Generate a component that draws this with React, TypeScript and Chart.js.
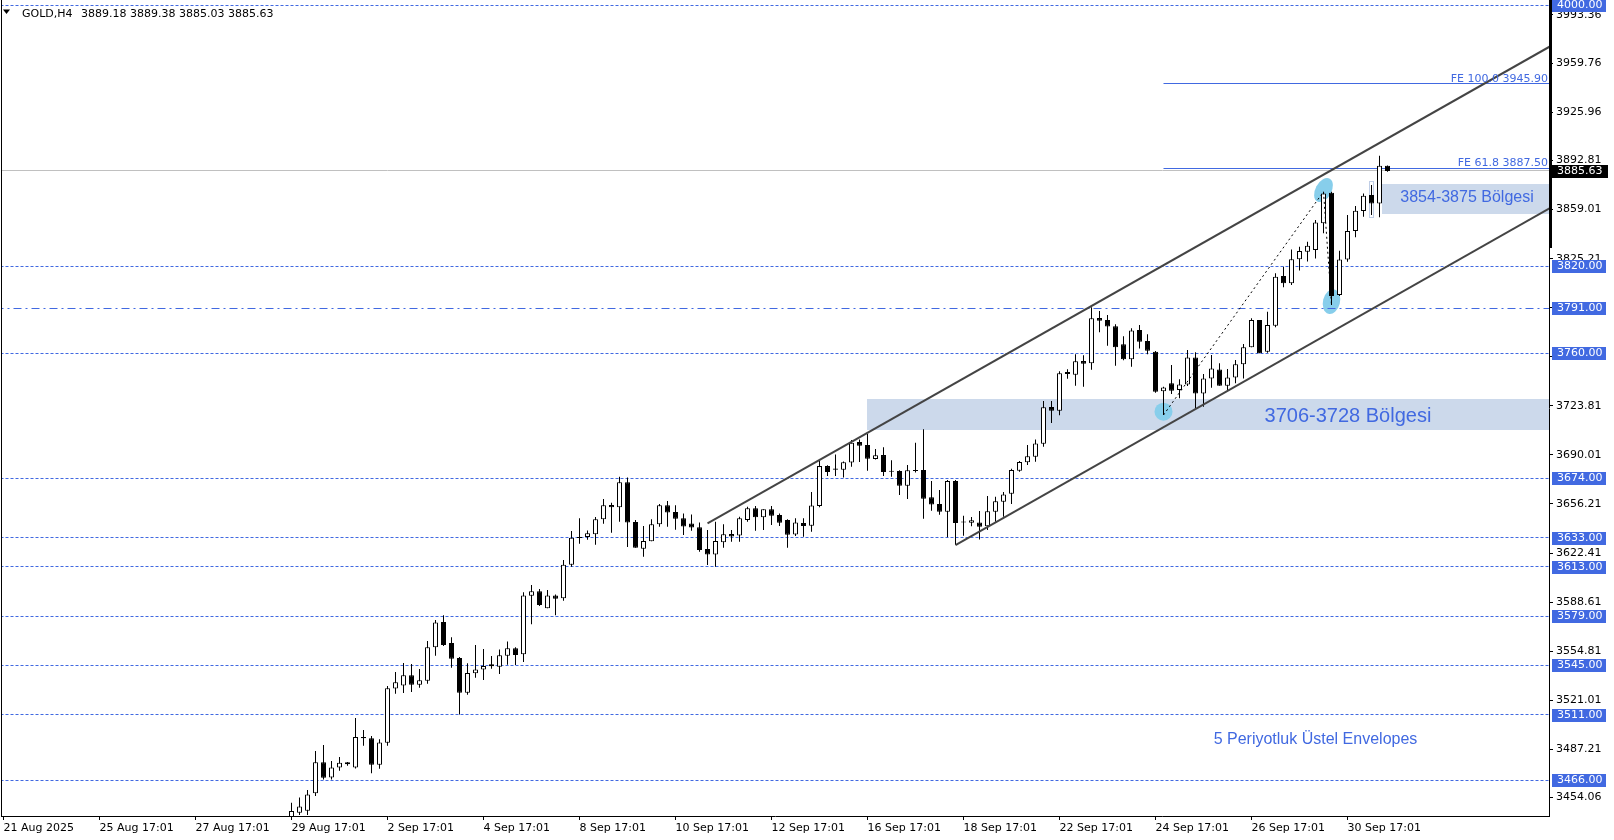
import React, { useEffect, useRef } from 'react';
import { Chart, registerables } from 'chart.js';

Chart.register(...registerables);

// ---------- data ----------
const FIRST_BAR = 36;
const OPEN: number[] = [
  3440.0, 3443.5, 3444.8, 3456.8, 3478.2, 3467.8, 3474.7, 3478.2, 3474.7, 3495.6,
  3494.7, 3476.5, 3491.7, 3529.0, 3531.2, 3538.1, 3531.7, 3534.4, 3557.4, 3574.9,
  3560.4, 3550.1, 3526.2, 3539.5, 3542.2, 3544.3, 3544.1, 3551.7, 3556.7, 3552.6,
  3593.0, 3596.0, 3584.3, 3593.2, 3591.2, 3614.4, 3632.8, 3633.4, 3635.3, 3645.6,
  3655.5, 3653.9, 3671.1, 3643.8, 3625.4, 3630.5, 3642.2, 3655.3, 3650.7, 3646.3,
  3642.8, 3640.1, 3625.2, 3621.3, 3629.8, 3635.5, 3634.4, 3645.1, 3653.2, 3647.0,
  3652.5, 3648.6, 3645.1, 3635.1, 3643.1, 3641.2, 3654.8, 3682.3, 3680.7, 3679.8,
  3684.7, 3698.9, 3696.8, 3687.2, 3689.9, 3678.6, 3678.9, 3668.8, 3679.0, 3679.6,
  3660.8, 3656.2, 3650.9, 3672.0, 3643.4, 3643.3, 3643.5, 3640.8, 3650.9, 3657.8,
  3663.3, 3679.1, 3684.9, 3688.8, 3697.7, 3723.0, 3720.5, 3747.1, 3745.3, 3754.7,
  3753.1, 3784.3, 3783.0, 3778.6, 3766.2, 3755.9, 3776.0, 3768.5, 3761.1, 3733.8,
  3739.3, 3734.7, 3738.6, 3757.2, 3732.4, 3742.7, 3748.9, 3737.7, 3743.4, 3752.4,
  3764.1, 3782.9, 3761.1, 3779.0, 3813.3, 3808.2, 3824.8, 3830.0, 3831.2, 3849.6,
  3870.7, 3800.2, 3824.7, 3844.3, 3858.0, 3869.1, 3863.3, 3889.18,
];
const HIGH: number[] = [
  3450.4, 3454.0, 3459.1, 3486.0, 3490.1, 3479.1, 3481.8, 3478.4, 3508.7, 3500.4,
  3496.3, 3494.0, 3530.8, 3540.4, 3546.6, 3545.9, 3542.5, 3561.8, 3576.2, 3579.5,
  3564.3, 3550.7, 3546.4, 3559.0, 3556.3, 3551.4, 3556.0, 3561.5, 3557.4, 3595.3,
  3600.4, 3597.6, 3596.9, 3593.9, 3617.6, 3637.6, 3646.3, 3638.0, 3647.2, 3659.6,
  3657.1, 3675.0, 3674.5, 3645.2, 3641.0, 3645.6, 3656.2, 3658.2, 3655.3, 3649.7,
  3649.0, 3643.5, 3638.3, 3644.0, 3642.2, 3638.3, 3647.4, 3654.3, 3654.8, 3652.5,
  3654.8, 3649.7, 3645.6, 3646.3, 3646.3, 3664.4, 3686.0, 3682.8, 3690.2, 3685.5,
  3700.3, 3700.7, 3704.4, 3694.1, 3695.2, 3686.3, 3679.4, 3683.0, 3698.4, 3707.6,
  3672.0, 3665.8, 3672.7, 3672.7, 3648.1, 3647.2, 3651.3, 3661.7, 3661.2, 3664.4,
  3680.5, 3685.8, 3696.8, 3700.7, 3727.1, 3727.1, 3747.6, 3749.0, 3759.3, 3758.6,
  3791.7, 3789.2, 3786.4, 3780.0, 3771.7, 3777.2, 3779.5, 3773.1, 3761.6, 3737.0,
  3751.9, 3742.1, 3762.3, 3760.7, 3745.7, 3758.8, 3753.1, 3749.2, 3755.4, 3766.4,
  3784.1, 3782.9, 3788.7, 3815.1, 3819.7, 3831.6, 3833.5, 3836.9, 3851.9, 3871.4,
  3871.4, 3830.7, 3855.3, 3861.5, 3870.2, 3876.0, 3896.2, 3889.38,
];
const LOW: number[] = [
  3437.0, 3441.9, 3441.9, 3455.0, 3466.4, 3466.4, 3472.4, 3475.9, 3474.0, 3489.6,
  3470.6, 3473.8, 3489.6, 3525.5, 3525.9, 3526.6, 3529.6, 3532.4, 3551.7, 3558.3,
  3543.4, 3511.2, 3524.8, 3536.5, 3534.9, 3542.7, 3539.0, 3545.5, 3545.2, 3547.3,
  3573.3, 3585.9, 3584.3, 3579.5, 3589.6, 3613.0, 3628.8, 3631.6, 3628.1, 3642.6,
  3636.4, 3644.0, 3626.5, 3626.1, 3619.9, 3630.5, 3640.5, 3640.5, 3638.5, 3634.8,
  3637.8, 3623.3, 3614.1, 3613.0, 3626.1, 3630.2, 3630.2, 3644.0, 3637.8, 3638.3,
  3641.7, 3641.0, 3626.1, 3634.1, 3633.6, 3637.1, 3653.9, 3675.5, 3675.5, 3674.5,
  3681.9, 3685.1, 3679.1, 3686.9, 3675.5, 3675.0, 3662.4, 3659.6, 3677.8, 3646.0,
  3651.6, 3648.8, 3633.2, 3627.9, 3634.3, 3640.8, 3631.8, 3638.3, 3644.0, 3647.4,
  3656.2, 3678.4, 3683.0, 3685.3, 3695.7, 3712.0, 3717.3, 3742.5, 3737.7, 3737.0,
  3748.7, 3774.5, 3765.3, 3751.5, 3755.2, 3750.8, 3763.4, 3759.3, 3732.9, 3717.5,
  3732.0, 3729.0, 3737.5, 3722.1, 3723.2, 3736.3, 3737.7, 3734.2, 3739.3, 3742.7,
  3764.1, 3760.0, 3760.4, 3777.9, 3805.5, 3807.1, 3817.0, 3823.2, 3825.4, 3842.7,
  3793.3, 3799.5, 3823.1, 3839.9, 3854.1, 3855.3, 3853.7, 3885.03,
];
const CLOSE: number[] = [
  3444.6, 3447.8, 3456.1, 3478.2, 3467.6, 3474.7, 3477.9, 3476.8, 3495.6, 3494.7,
  3476.5, 3491.9, 3529.2, 3533.3, 3538.1, 3531.7, 3534.7, 3557.4, 3574.6, 3559.0,
  3549.6, 3526.2, 3539.7, 3542.2, 3544.5, 3545.7, 3551.9, 3556.7, 3552.1, 3593.2,
  3596.0, 3586.6, 3593.2, 3590.9, 3614.4, 3633.0, 3633.2, 3636.0, 3645.6, 3655.3,
  3653.9, 3671.1, 3643.5, 3626.1, 3630.7, 3642.2, 3655.3, 3650.4, 3646.1, 3640.6,
  3639.9, 3624.5, 3621.3, 3630.7, 3635.3, 3633.7, 3646.3, 3653.2, 3647.0, 3652.5,
  3648.1, 3643.3, 3635.0, 3643.5, 3641.0, 3655.2, 3682.3, 3678.2, 3679.8, 3684.9,
  3698.4, 3696.4, 3687.4, 3689.7, 3678.2, 3678.4, 3668.8, 3679.4, 3679.4, 3659.8,
  3655.9, 3650.9, 3672.0, 3643.1, 3643.7, 3644.9, 3640.5, 3651.1, 3658.0, 3662.8,
  3679.6, 3685.1, 3689.0, 3697.9, 3722.8, 3720.5, 3746.2, 3745.7, 3754.5, 3752.9,
  3784.1, 3782.5, 3778.4, 3764.1, 3755.9, 3775.8, 3768.0, 3761.8, 3733.6, 3736.5,
  3734.2, 3738.6, 3757.2, 3732.4, 3742.7, 3749.6, 3737.7, 3743.4, 3752.4, 3764.1,
  3782.9, 3760.0, 3779.5, 3812.8, 3808.2, 3824.8, 3830.5, 3834.2, 3850.2, 3870.2,
  3799.5, 3824.7, 3844.3, 3858.3, 3868.6, 3863.3, 3889.3, 3885.63,
];

const X_TICK_POS = [0, 12, 24, 36, 48, 60, 72, 84, 96, 108, 120, 132, 144, 156, 168];
const X_TICK_LABELS = [
  '21 Aug 2025', '25 Aug 17:01', '27 Aug 17:01', '29 Aug 17:01', '2 Sep 17:01',
  '4 Sep 17:01', '8 Sep 17:01', '10 Sep 17:01', '12 Sep 17:01', '16 Sep 17:01',
  '18 Sep 17:01', '22 Sep 17:01', '24 Sep 17:01', '26 Sep 17:01', '30 Sep 17:01',
];
const Y_TICKS = [
  3454.06, 3487.21, 3521.01, 3554.81, 3588.61, 3622.41, 3656.21, 3690.01, 3723.81,
  3757.61, 3791.41, 3825.21, 3859.01, 3892.81, 3925.96, 3959.76, 3993.36,
];

const LEVELS = [4000, 3820, 3791, 3760, 3674, 3633, 3613, 3579, 3545, 3511, 3466];
const DASHDOT_LEVELS = [3791];
const CURRENT_PRICE = 3885.63;

const FE_VALUES = [3945.9, 3887.5];
const FE_LABELS = ['FE 100.0 3945.90', 'FE 61.8 3887.50'];
const FE_START = 145;
const FE_PATH_X = [145, 165, 166];
const FE_PATH_Y = [3717.5, 3871.4, 3793.3];

const CH_UPPER_X = [88, 194];
const CH_UPPER_Y = [3642.8, 3973.6];
const CH_LOWER_X = [119, 194];
const CH_LOWER_Y = [3627.9, 3862.3];

const ZONE_START = [108, 172.3];
const ZONE_LOW = [3707, 3856];
const ZONE_HIGH = [3728.5, 3876.5];

const MARK_X = [145, 165, 166];
const MARK_Y = [3719.8, 3872.5, 3795.6];

const NOTE_TEXT = ['3706-3728 Bölgesi', '3854-3875 Bölgesi', '5 Periyotluk Üstel Envelopes'];
const NOTE_X = [168.06, 182.94, 164.0];
const NOTE_Y = [3716.8, 3867.4, 3493.6];

const TITLE_SYMBOL = 'GOLD,H4';
const TITLE_OHLC = '3889.18 3889.38 3885.03 3885.63';

// ---------- styles ----------
const BLUE = '#4169E1';
const X_MIN = -0.3125;
const X_MAX = 193.1875;
const Y_MIN = 3441.2;
const Y_MAX = 4003.45;
const FONT = 'DejaVu Sans';

export default function App() {
  const ref = useRef<HTMLCanvasElement>(null);

  useEffect(() => {
    document.body.style.margin = '0';
    const canvas = ref.current;
    if (!canvas) return;

    const idx = OPEN.map((_, k) => FIRST_BAR + k);
    const wickData = idx.map((x, k) => ({ x, y: [LOW[k], HIGH[k]] }));
    const bodyData = idx.map((x, k) => ({ x, y: [OPEN[k], CLOSE[k]] }));
    const bodyColors = idx.map((_, k) => (CLOSE[k] >= OPEN[k] ? '#ffffff' : '#000000'));

    const hline = (v: number, from: number, color: string, dash: number[]) => ({
      type: 'line',
      data: [{ x: from, y: v }, { x: 200, y: v }],
      borderColor: color,
      borderWidth: 1,
      borderDash: dash,
      pointRadius: 0,
      fill: false,
      order: 4,
      clip: 0,
      snapY: v,
    });

    const levelSets = LEVELS.map((v) =>
      hline(v, -1, BLUE, DASHDOT_LEVELS.includes(v) ? [8, 4, 2, 4] : [3, 2]),
    );
    const feSets = FE_VALUES.map((v) => hline(v, FE_START, BLUE, []));

    const snap = {
      id: 'snap',
      beforeDatasetDraw(chart: any, args: any) {
        const ds = chart.data.datasets[args.index];
        chart.ctx.save();
        if (ds && typeof ds.snapY === 'number') {
          const yp = chart.scales.y.getPixelForValue(ds.snapY);
          const target = Math.round(yp - 0.5) + 0.5;
          chart.ctx.translate(0, target - yp);
        }
      },
      afterDatasetDraw(chart: any) {
        chart.ctx.restore();
      },
    };

    const overlay = {
      id: 'overlay',
      beforeDatasetsDraw(chart: any) {
        const { ctx, chartArea: a, scales } = chart;
        const x = scales.x, y = scales.y;
        ctx.save();
        ctx.beginPath();
        ctx.rect(a.left, a.top, a.right - a.left, a.bottom - a.top);
        ctx.clip();
        ZONE_START.forEach((s, k) => {
          const x0 = Math.round(x.getPixelForValue(s));
          const yt = Math.round(y.getPixelForValue(ZONE_HIGH[k]));
          const yb = Math.round(y.getPixelForValue(ZONE_LOW[k]));
          ctx.fillStyle = '#CCD9EB';
          ctx.fillRect(x0, yt, a.right - x0, yb - yt);
        });
        ctx.strokeStyle = '#BFCDE6';
        ctx.lineWidth = 1;
        const ox = Math.round(x.getPixelForValue(170.7)) + 0.5;
        const oy = Math.round(y.getPixelForValue(3879)) + 0.5;
        const oy2 = Math.round(y.getPixelForValue(3854)) + 0.5;
        ctx.strokeRect(ox, oy, 4, oy2 - oy);
        const radii = [[9, 9, 0], [8, 13, 0.5], [8.5, 12.5, 0.25]];
        MARK_X.forEach((mx, k) => {
          ctx.fillStyle = '#87CEEB';
          ctx.beginPath();
          ctx.ellipse(x.getPixelForValue(mx), y.getPixelForValue(MARK_Y[k]), radii[k][0], radii[k][1], radii[k][2], 0, Math.PI * 2);
          ctx.fill();
        });
        ctx.restore();
      },
      afterDatasetsDraw(chart: any) {
        const { ctx, chartArea: a, scales } = chart;
        const x = scales.x, y = scales.y;
        ctx.save();
        ctx.textAlign = 'center';
        ctx.textBaseline = 'middle';
        const sizes = [20, 16, 16];
        NOTE_TEXT.forEach((t, k) => {
          ctx.fillStyle = BLUE;
          ctx.font = `${sizes[k]}px "Liberation Sans", Arial, sans-serif`;
          ctx.fillText(t, x.getPixelForValue(NOTE_X[k]), y.getPixelForValue(NOTE_Y[k]));
        });
        ctx.textAlign = 'right';
        ctx.textBaseline = 'alphabetic';
        ctx.font = `11px "${FONT}"`;
        FE_LABELS.forEach((t, k) => {
          ctx.fillStyle = BLUE;
          ctx.fillText(t, a.right - 1, Math.round(y.getPixelForValue(FE_VALUES[k])) - 2);
        });
        ctx.restore();
      },
      afterDraw(chart: any) {
        const { ctx, chartArea: a, scales } = chart;
        const y = scales.y;
        ctx.save();
        ctx.fillStyle = '#000';
        ctx.fillRect(1, 0, 1, a.bottom + 1);
        ctx.fillRect(a.right, 0, 3, 248);
        ctx.font = `11px "${FONT}"`;
        ctx.textBaseline = 'middle';
        ctx.textAlign = 'left';
        LEVELS.forEach((v) => {
          const yp = Math.round(y.getPixelForValue(v));
          ctx.fillStyle = BLUE;
          ctx.fillRect(a.right + 3, yp - 6, 54, 13);
          ctx.fillStyle = '#fff';
          ctx.fillText(v.toFixed(2), a.right + 8, yp + 0.5);
        });
        const cp = Math.round(y.getPixelForValue(CURRENT_PRICE));
        ctx.fillStyle = '#000';
        ctx.fillRect(a.right, cp - 6, 59, 13);
        ctx.fillStyle = '#fff';
        ctx.fillText(CURRENT_PRICE.toFixed(2), a.right + 8, cp + 0.5);
        ctx.fillStyle = '#000';
        ctx.beginPath();
        ctx.moveTo(3, 9.5);
        ctx.lineTo(10, 9.5);
        ctx.lineTo(6.5, 14);
        ctx.closePath();
        ctx.fill();
        ctx.textBaseline = 'alphabetic';
        ctx.fillText(TITLE_SYMBOL, 22, 17);
        ctx.fillText(TITLE_OHLC, 81, 17);
        ctx.restore();
      },
    };

    const chart = new Chart(canvas, {
      type: 'bar',
      data: {
        datasets: [
          hline(CURRENT_PRICE, -1, '#C0C0C0', []),
          ...levelSets,
          ...feSets,
          {
            type: 'bar',
            data: wickData,
            backgroundColor: '#000',
            borderWidth: 0,
            barThickness: 1,
            grouped: false,
            inflateAmount: 0,
            order: 2,
            clip: 0,
          },
          {
            type: 'bar',
            data: bodyData,
            backgroundColor: bodyColors,
            borderColor: '#000',
            borderWidth: 1,
            borderSkipped: false,
            barThickness: 5,
            minBarLength: 1,
            grouped: false,
            inflateAmount: 0,
            order: 1,
            clip: 0,
          },
          {
            type: 'line',
            data: CH_UPPER_X.map((v, k) => ({ x: v, y: CH_UPPER_Y[k] })),
            borderColor: '#444',
            borderWidth: 2,
            pointRadius: 0,
            fill: false,
            order: 0,
            clip: 0,
          },
          {
            type: 'line',
            data: CH_LOWER_X.map((v, k) => ({ x: v, y: CH_LOWER_Y[k] })),
            borderColor: '#444',
            borderWidth: 2,
            pointRadius: 0,
            fill: false,
            order: 0,
            clip: 0,
          },
          {
            type: 'line',
            data: FE_PATH_X.map((v, k) => ({ x: v, y: FE_PATH_Y[k] })),
            borderColor: '#000',
            borderWidth: 1,
            borderDash: [2, 3],
            pointRadius: 0,
            fill: false,
            order: 0,
            clip: 0,
          },
        ] as any,
      },
      options: {
        responsive: false,
        maintainAspectRatio: false,
        animation: false,
        devicePixelRatio: 1,
        events: [],
        layout: { padding: { left: 1, right: 0, top: 0, bottom: 0 } },
        plugins: { legend: { display: false }, tooltip: { enabled: false }, title: { display: false } },
        scales: {
          x: {
            type: 'linear',
            min: X_MIN,
            max: X_MAX,
            offset: false,
            grid: { display: true, drawOnChartArea: false, drawTicks: true, tickLength: 4, color: '#000', offset: false },
            border: { display: true, color: '#000', width: 1 },
            ticks: {
              autoSkip: false,
              maxRotation: 0,
              minRotation: 0,
              align: 'start',
              padding: 2,
              color: '#000',
              font: { family: FONT, size: 11 },
              callback: (v: any) => {
                const k = X_TICK_POS.indexOf(Number(v));
                return k >= 0 ? X_TICK_LABELS[k] : '';
              },
            },
            afterBuildTicks: (s: any) => {
              s.ticks = X_TICK_POS.map((v) => ({ value: v }));
            },
            afterFit: (s: any) => {
              s.height = 24;
              s.paddingLeft = 0;
              s.paddingRight = 0;
            },
          },
          y: {
            type: 'linear',
            position: 'right',
            min: Y_MIN,
            max: Y_MAX,
            grid: { display: true, drawOnChartArea: false, drawTicks: true, tickLength: 4, color: '#000' },
            border: { display: true, color: '#000', width: 1 },
            ticks: {
              autoSkip: false,
              padding: 3,
              color: '#000',
              font: { family: FONT, size: 11 },
              callback: (v: any) => Number(v).toFixed(2),
            },
            afterBuildTicks: (s: any) => {
              s.ticks = Y_TICKS.map((v) => ({ value: v }));
            },
            afterFit: (s: any) => {
              s.width = 65;
              s.paddingTop = 0;
              s.paddingBottom = 0;
            },
          },
        },
      } as any,
      plugins: [snap, overlay],
    });

    return () => chart.destroy();
  }, []);

  return (
    <canvas
      ref={ref}
      width={1614}
      height={840}
      style={{ display: 'block', width: '1614px', height: '840px' }}
    />
  );
}
